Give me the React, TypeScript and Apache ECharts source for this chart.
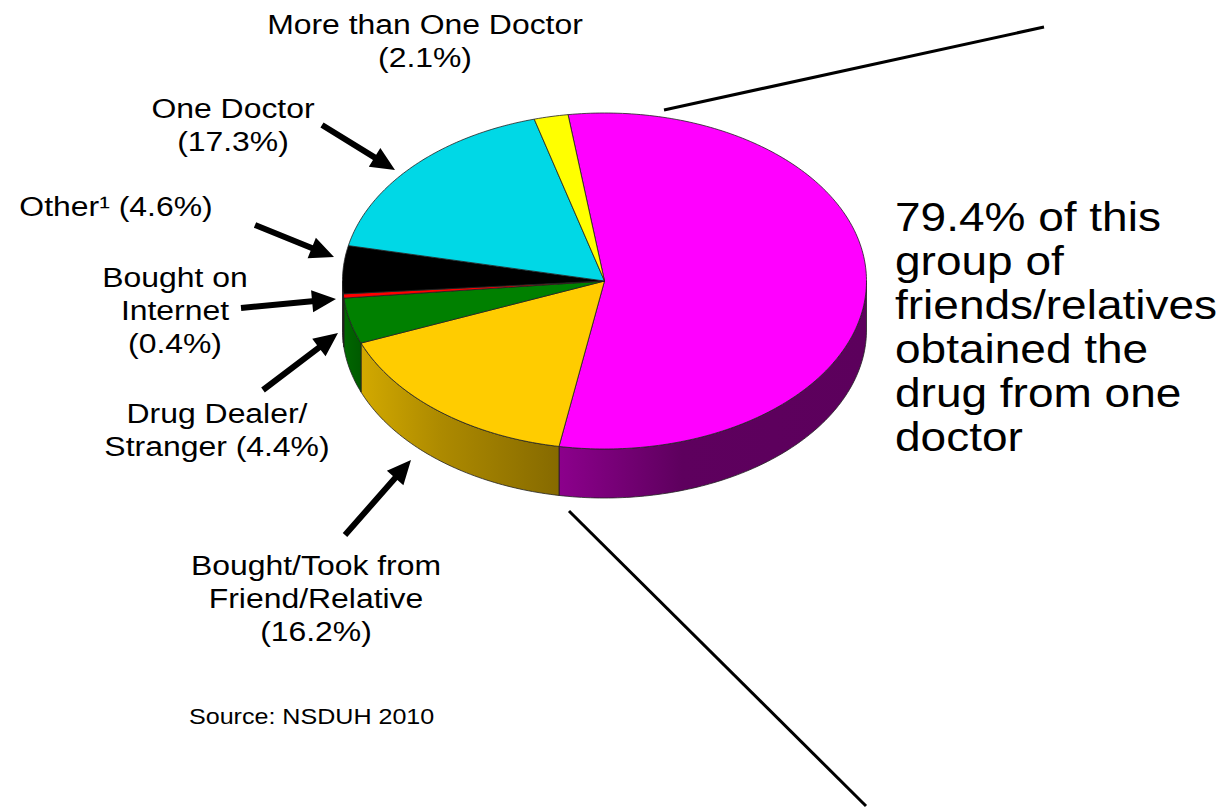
import React, { useEffect, useRef } from "react";
import * as echarts from "echarts";

// Share of each source, clockwise from the magenta slice.
const sources = [
  "Free from Friend/Relative",
  "Bought/Took from Friend/Relative",
  "Drug Dealer/Stranger",
  "Bought on Internet",
  "Other",
  "One Doctor",
  "More than One Doctor",
];
const shares = [55.0, 16.2, 4.4, 0.4, 4.6, 17.3, 2.1];
const topColors = ["#ff00ff", "#ffcc00", "#008000", "#ff0000", "#000000", "#00d8e6", "#ffff00"];
const wallStops = [
  ["#8c008c", "#5e005e", "#5c005c"],
  ["#d2a900", "#ad8a00", "#866a00"],
  ["#006a00", "#006200", "#005a00"],
  ["#aa0000", "#aa0000", "#aa0000"],
  ["#000000", "#000000", "#000000"],
  ["#00a0aa", "#00a0aa", "#00a0aa"],
  ["#aaaa00", "#aaaa00", "#aaaa00"],
];

// Projected disc: ellipse centre and radii, wall height, rotation of the first slice.
const CX = 604.5;
const CY = 281;
const RX = 262;
const RY = 168;
const DEPTH = 49;
const START_DEG = -8;

const X_STRETCH = 1.14;

function rimPoint(deg: number, drop = 0): number[] {
  const r = (deg * Math.PI) / 180;
  return [CX + RX * Math.sin(r), CY - RY * Math.cos(r) + drop];
}

function arcPoints(from: number, to: number, drop = 0): number[][] {
  const steps = Math.max(2, Math.ceil(Math.abs(to - from)));
  const pts: number[][] = [];
  for (let i = 0; i <= steps; i++) pts.push(rimPoint(from + ((to - from) * i) / steps, drop));
  return pts;
}

function renderSlice(params: any, api: any) {
  const i = params.dataIndex;
  const total = shares.reduce((a, b) => a + b, 0);
  const before = shares.slice(0, i).reduce((a, b) => a + b, 0);
  const a0 = START_DEG + (before / total) * 360;
  const a1 = a0 + (api.value(0) / total) * 360;
  const children: any[] = [];

  // The wall only shows on the near half of the rim (90 to 270 degrees).
  const w0 = Math.max(a0, 90);
  const w1 = Math.min(a1, 270);
  if (w1 > w0) {
    const stops = wallStops[i];
    children.push({
      type: "polygon",
      shape: { points: [...arcPoints(w0, w1), ...arcPoints(w1, w0, DEPTH)] },
      style: {
        fill: new echarts.graphic.LinearGradient(0, 0, 1, 0, [
          { offset: 0, color: stops[0] },
          { offset: 0.4, color: stops[1] },
          { offset: 1, color: stops[2] },
        ]),
        stroke: "#222222",
        lineWidth: 0.8,
      },
    });
  }

  children.push({
    type: "polygon",
    shape: { points: [[CX, CY], ...arcPoints(a0, a1)] },
    style: { fill: topColors[i], stroke: "#222222", lineWidth: 0.8 },
  });
  return { type: "group", children };
}

function arrow(tail: number[], tip: number[]) {
  const dx = tip[0] - tail[0];
  const dy = tip[1] - tail[1];
  const len = Math.hypot(dx, dy);
  const ux = dx / len;
  const uy = dy / len;
  const headLen = 24;
  const headHalf = 11;
  const shaftHalf = 3;
  const bx = tip[0] - ux * headLen;
  const by = tip[1] - uy * headLen;
  return {
    type: "polygon",
    silent: true,
    shape: {
      points: [
        [tail[0] - uy * shaftHalf, tail[1] + ux * shaftHalf],
        [bx - uy * shaftHalf, by + ux * shaftHalf],
        [bx - uy * headHalf, by + ux * headHalf],
        tip,
        [bx + uy * headHalf, by - ux * headHalf],
        [bx + uy * shaftHalf, by - ux * shaftHalf],
        [tail[0] + uy * shaftHalf, tail[1] - ux * shaftHalf],
      ],
    },
    style: { fill: "#000000" },
  };
}

function label(text: string, x: number, y: number, size = 28, align = "center", lineHeight = 33, stretch = X_STRETCH) {
  return {
    type: "text",
    x,
    y,
    scaleX: stretch,
    silent: true,
    style: {
      text,
      fill: "#000000",
      font: `${size}px "Liberation Sans", Arial, sans-serif`,
      lineHeight,
      align,
      verticalAlign: "middle",
    },
  };
}

function connector(a: number[], b: number[]) {
  return {
    type: "line",
    silent: true,
    shape: { x1: a[0], y1: a[1], x2: b[0], y2: b[1] },
    style: { stroke: "#000000", lineWidth: 3 },
  };
}

export default function App() {
  const ref = useRef<HTMLDivElement>(null);

  useEffect(() => {
    if (!ref.current) return;
    const chart = echarts.init(ref.current, null, { renderer: "svg" });
    chart.setOption({
      animation: false,
      backgroundColor: "#ffffff",
      series: [
        {
          type: "custom",
          coordinateSystem: "none",
          silent: true,
          data: shares.map((v, i) => ({ name: sources[i], value: v })),
          renderItem: renderSlice,
        },
      ],
      graphic: [
        connector([664, 110], [1044, 27]),
        connector([569, 511], [866, 806]),
        arrow([322, 125], [395, 170]),
        arrow([255, 225], [334, 257]),
        arrow([241, 308], [336, 299]),
        arrow([263, 390], [338, 333]),
        arrow([345, 535], [411, 460]),
        label("More than One Doctor\n(2.1%)", 425, 41),
        label("One Doctor\n(17.3%)", 233, 125),
        label("Other\u00b9 (4.6%)", 116, 206),
        label("Bought on\nInternet\n(0.4%)", 175, 310),
        label("Drug Dealer/\nStranger (4.4%)", 217, 430),
        label("Bought/Took from\nFriend/Relative\n(16.2%)", 316, 598),
        label("Free from\nFriend/\nRelative\n(55.0%)", 701, 293),
        label("Source: NSDUH 2010", 189, 717, 22, "left"),
        label(
          "79.4% of this\ngroup of\nfriends/relatives\nobtained the\ndrug from one\ndoctor",
          895,
          327,
          40,
          "left",
          44,
          1.15
        ),
      ],
    });
    return () => chart.dispose();
  }, []);

  return <div ref={ref} style={{ position: "absolute", left: 0, top: 0, width: 1225, height: 810 }} />;
}
